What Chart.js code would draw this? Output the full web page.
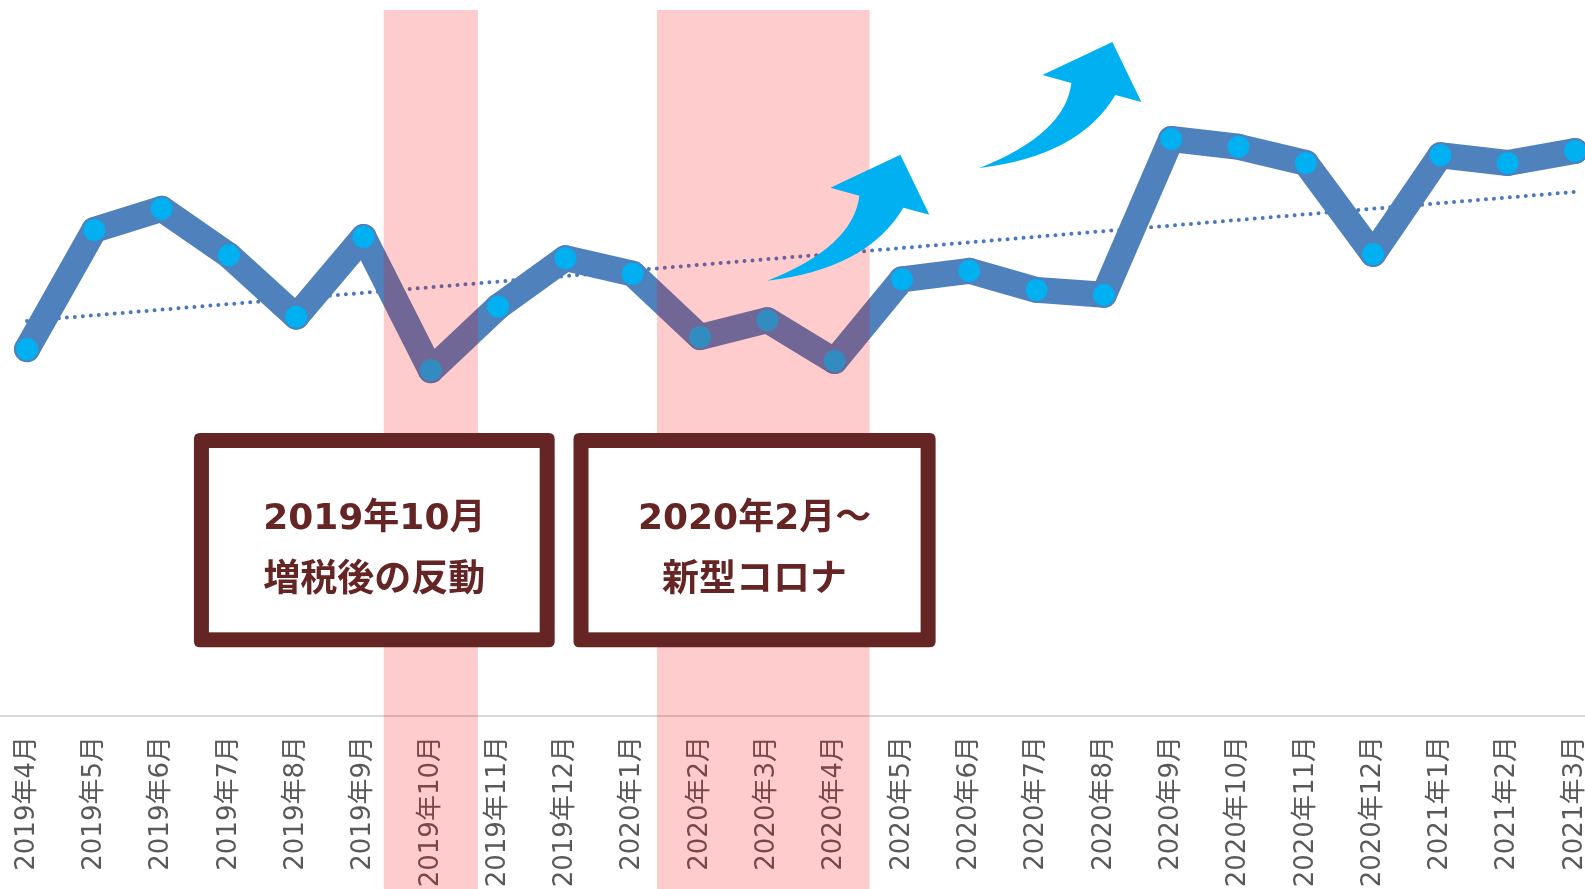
<!DOCTYPE html>
<html><head><meta charset="utf-8">
<script src="https://cdn.jsdelivr.net/npm/chart.js@4"></script>
<style>html,body{margin:0;padding:0;background:#fff;overflow:hidden}</style>
</head><body>
<canvas id="c" width="1585" height="889"></canvas>
<script>
const categories = ['2019年4月','2019年5月','2019年6月','2019年7月','2019年8月','2019年9月','2019年10月','2019年11月','2019年12月','2020年1月','2020年2月','2020年3月','2020年4月','2020年5月','2020年6月','2020年7月','2020年8月','2020年9月','2020年10月','2020年11月','2020年12月','2021年1月','2021年2月','2021年3月'];
const salesValues = [51.9, 68.8, 71.8, 65.2, 56.5, 67.8, 48.9, 57.9, 64.8, 62.6, 53.6, 56.0, 50.2, 61.8, 63.0, 60.3, 59.6, 81.7, 80.6, 78.3, 65.4, 79.4, 78.3, 80.0];
const trendValues = [55.9, null, null, null, null, null, null, null, null, null, null, null, null, null, null, null, null, null, null, null, null, null, null, 74.2];
const noteLines = [['2019年10月', '増税後の反動'], ['2020年2月～', '新型コロナ']];

// annotation placement in axis units (category index, value)
const bandRanges = [[5.30, 6.70], [9.36, 12.52]];
const noteBoxes = [{x0: 2.48, x1: 7.84, y0: 9.6, y1: 40}, {x0: 8.12, x1: 13.50, y0: 9.6, y1: 40}];
const arrowTails = [{x: 11.0, y: 61.6}, {x: 14.15, y: 77.6}];

function roundRect(ctx, x, y, w, h, r) {
  ctx.beginPath();
  ctx.moveTo(x + r, y);
  ctx.lineTo(x + w - r, y); ctx.quadraticCurveTo(x + w, y, x + w, y + r);
  ctx.lineTo(x + w, y + h - r); ctx.quadraticCurveTo(x + w, y + h, x + w - r, y + h);
  ctx.lineTo(x + r, y + h); ctx.quadraticCurveTo(x, y + h, x, y + h - r);
  ctx.lineTo(x, y + r); ctx.quadraticCurveTo(x, y, x + r, y);
  ctx.closePath();
}
function drawArrow(ctx, tx, ty) {
  ctx.beginPath();
  ctx.moveTo(tx, ty);
  ctx.quadraticCurveTo(tx + 86, ty - 34, tx + 92, ty - 85);
  ctx.lineTo(tx + 63, ty - 93);
  ctx.lineTo(tx + 133, ty - 126);
  ctx.lineTo(tx + 162, ty - 66);
  ctx.lineTo(tx + 136, ty - 73);
  ctx.quadraticCurveTo(tx + 100, ty - 12, tx, ty);
  ctx.closePath();
  ctx.fill();
}

const overlay = {
  id: 'overlay',
  beforeDatasetsDraw(chart) {
    const {ctx, chartArea} = chart;
    ctx.save();
    ctx.strokeStyle = '#d9d9d9'; ctx.lineWidth = 2;
    ctx.beginPath(); ctx.moveTo(0, chartArea.bottom + 1); ctx.lineTo(chart.width, chartArea.bottom + 1); ctx.stroke();
    ctx.restore();
  },
  afterDraw(chart) {
    const {ctx, chartArea, scales: {x, y}} = chart;
    ctx.save();
    ctx.fillStyle = 'rgba(250,0,0,0.2)';
    bandRanges.forEach(([a, b]) => {
      const p0 = x.getPixelForValue(a), p1 = x.getPixelForValue(b);
      ctx.fillRect(p0, chartArea.top, p1 - p0, chart.height - chartArea.top);
    });
    ctx.fillStyle = '#00b0f0';
    arrowTails.forEach(t => drawArrow(ctx, x.getPixelForValue(t.x), y.getPixelForValue(t.y)));
    noteBoxes.forEach((b, i) => {
      const l = x.getPixelForValue(b.x0), r = x.getPixelForValue(b.x1);
      const top = y.getPixelForValue(b.y1), bot = y.getPixelForValue(b.y0);
      const w = r - l, h = bot - top, bw = 15;
      ctx.fillStyle = '#652525';
      roundRect(ctx, l, top, w, h, 6); ctx.fill();
      ctx.fillStyle = '#ffffff';
      ctx.fillRect(l + bw, top + bw, w - 2 * bw, h - 2 * bw);
      ctx.fillStyle = '#652525';
      ctx.font = 'bold 36px "DejaVu Sans", "Noto Sans CJK JP"';
      ctx.textAlign = 'center'; ctx.textBaseline = 'middle';
      ctx.fillText(noteLines[i][0], (l + r) / 2, top + h * 0.402);
      ctx.font = 'bold 37px "Noto Sans CJK JP"';
      ctx.fillText(noteLines[i][1], (l + r) / 2, top + h * 0.673);
    });
    ctx.restore();
  }
};

new Chart(document.getElementById('c'), {
  type: 'line',
  data: {
    labels: categories,
    datasets: [
      {
        data: salesValues, order: 1,
        borderColor: '#4f81bd', borderWidth: 26, borderJoinStyle: 'round', borderCapStyle: 'round',
        pointRadius: 12, pointBackgroundColor: '#00b0f0', pointBorderColor: '#4f81bd', pointBorderWidth: 2,
        tension: 0, fill: false, clip: false
      },
      {
        data: trendValues, order: 2, spanGaps: true,
        borderColor: '#4a78c0', borderWidth: 4, borderDash: [0, 8], borderCapStyle: 'round',
        pointRadius: 0, fill: false, clip: false
      }
    ]
  },
  options: {
    responsive: false, animation: false, devicePixelRatio: 1,
    layout: {autoPadding: false, padding: {top: 10, left: 27, right: 10, bottom: 0}},
    plugins: {legend: {display: false}, tooltip: {enabled: false}},
    scales: {
      x: {
        type: 'category', offset: false,
        grid: {display: false, drawTicks: false}, border: {display: false},
        ticks: {color: '#595959', font: {family: '"DejaVu Sans", "Noto Sans CJK JP"', size: 26}, minRotation: 90, maxRotation: 90, autoSkip: false, padding: 21},
        afterFit(s) { s.height = 174; s.paddingLeft = 0; s.paddingRight = 0; s.paddingTop = 0; s.paddingBottom = 0; }
      },
      y: {display: false, min: 0, max: 100}
    }
  },
  plugins: [overlay]
});
</script>
</body></html>
